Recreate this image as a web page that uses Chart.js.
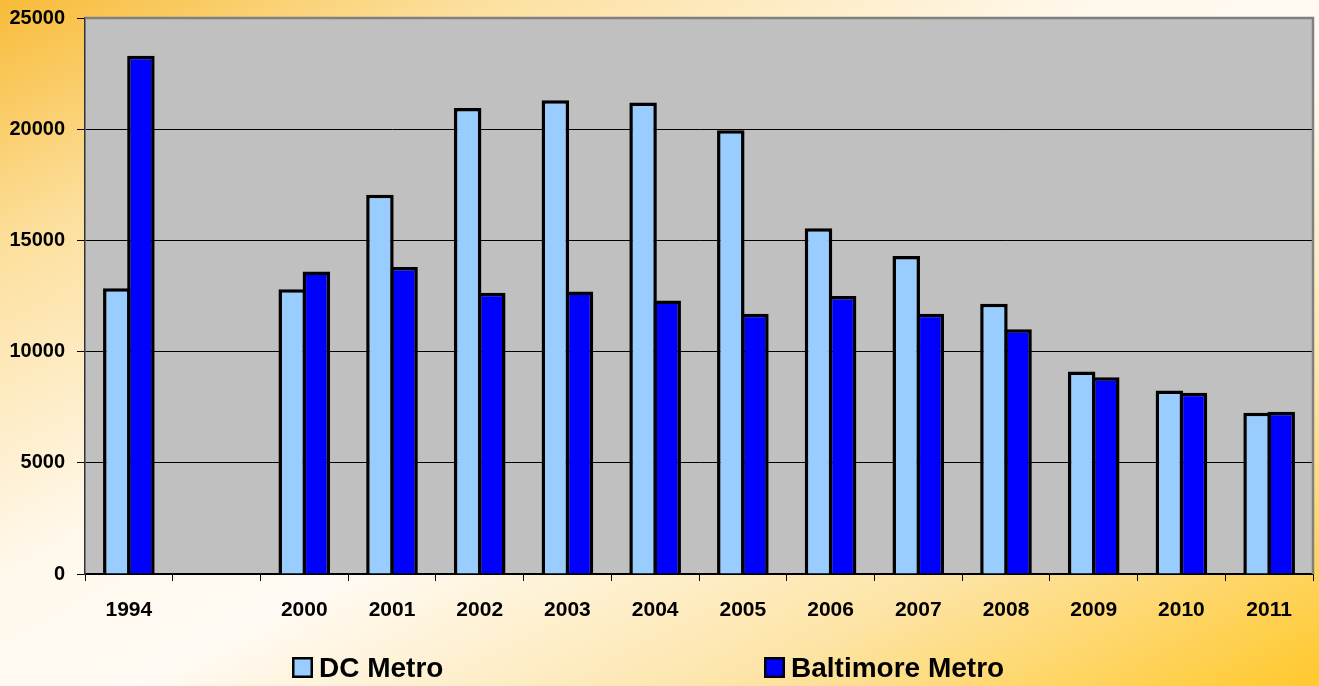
<!DOCTYPE html>
<html>
<head>
<meta charset="utf-8">
<script src="https://cdn.jsdelivr.net/npm/chart.js@4.4.1/dist/chart.umd.min.js"></script>
<style>
  html, body { margin: 0; padding: 0; }
  body {
    width: 1319px; height: 686px; overflow: hidden;
    background: linear-gradient(to bottom right, #f8bb38 0%, #fcdf9c 18%, #fff8ec 42%, #fffaf3 55%, #fde4a6 78%, #ffc82c 100%);
  }
  #wrap { width: 1319px; height: 686px; position: relative; }
</style>
</head>
<body>
<div id="wrap"><canvas id="myChart" width="1319" height="686"></canvas></div>
<script>
// chart data
var years = ["1994", "", "2000", "2001", "2002", "2003", "2004", "2005", "2006", "2007", "2008", "2009", "2010", "2011"];
var dcMetro = [12850, null, 12800, 17050, 20950, 21300, 21200, 19950, 15550, 14300, 12150, 9100, 8250, 7250];
var baltimoreMetro = [23300, null, 13600, 13800, 12650, 12700, 12300, 11700, 12500, 11700, 11000, 8850, 8150, 7300];
var yTicks = [0, 5000, 10000, 15000, 20000, 25000];

var tickFont = "'Liberation Sans', Arial, sans-serif";

// grey plot area + frame
var plotArea = {
  id: "plotArea",
  beforeDraw: function (chart) {
    var a = chart.chartArea, c = chart.ctx;
    c.save();
    c.fillStyle = "#c0c0c0";
    c.fillRect(a.left, a.top, a.right - a.left, a.bottom - a.top);
    c.restore();
  },
  afterDraw: function (chart) {
    var a = chart.chartArea, c = chart.ctx;
    c.save();
    c.strokeStyle = "#808080";
    c.lineWidth = 2.5;
    c.beginPath();
    c.moveTo(a.left, a.top);
    c.lineTo(a.right, a.top);
    c.lineTo(a.right, a.bottom);
    c.stroke();
    c.restore();
  }
};

// legend spread along the bottom like the original
var bottomLegend = {
  id: "bottomLegend",
  afterDraw: function (chart) {
    var c = chart.ctx;
    var xs = [292, 764];
    c.save();
    c.font = "bold 28px 'Liberation Sans', Arial, sans-serif";
    c.textBaseline = "alphabetic";
    chart.data.datasets.forEach(function (ds, i) {
      c.fillStyle = "#000";
      c.fillRect(xs[i], 657, 21, 21);
      c.fillStyle = ds.backgroundColor;
      c.fillRect(xs[i] + 2.5, 659.5, 16, 16);
      c.fillStyle = "#000";
      c.fillText(ds.label, xs[i] + 27, 677);
    });
    c.restore();
  }
};

var ctx = document.getElementById("myChart").getContext("2d");
var myChart = new Chart(ctx, {
  type: "bar",
  data: {
    labels: years,
    datasets: [
      {
        label: "DC Metro",
        data: dcMetro,
        backgroundColor: "#99ccff",
        borderColor: "#000000",
        borderWidth: 3.5,
        barPercentage: 1.14,
        categoryPercentage: 0.55,
      },
      {
        label: "Baltimore Metro",
        data: baltimoreMetro,
        backgroundColor: "#0000ff",
        borderColor: "#000000",
        borderWidth: 3.5,
        barPercentage: 1.14,
        categoryPercentage: 0.55,
      },
    ],
  },
  options: {
    responsive: false,
    animation: false,
    layout: {
      padding: { top: 18, right: 6, left: 0, bottom: 0 },
    },
    plugins: {
      legend: { display: false },
      tooltip: { enabled: false },
    },
    scales: {
      x: {
        afterFit: function (s) { s.height = 112; },
        grid: {
          offset: true,
          drawOnChartArea: false,
          drawTicks: true,
          tickLength: 7,
          color: "#000",
        },
        border: { color: "#000", width: 1.5 },
        ticks: {
          color: "#000",
          padding: 17,
          maxRotation: 0,
          autoSkip: false,
          font: { family: tickFont, size: 21, weight: "bold" },
        },
      },
      y: {
        min: 0,
        max: 25000,
        afterFit: function (s) {
          s.width = 85;
          s.paddingTop = 0;
          s.paddingBottom = 0;
        },
        afterBuildTicks: function (s) {
          s.ticks = yTicks.map(function (v) { return { value: v }; });
        },
        grid: {
          color: "#000",
          lineWidth: 1,
          tickLength: 8,
        },
        border: { color: "#333", width: 1.5 },
        ticks: {
          color: "#000",
          padding: 12,
          font: { family: tickFont, size: 20, weight: "bold" },
          callback: function (v) { return String(v); },
        },
      },
    },
  },
  plugins: [plotArea, bottomLegend],
});
</script>
</body>
</html>
